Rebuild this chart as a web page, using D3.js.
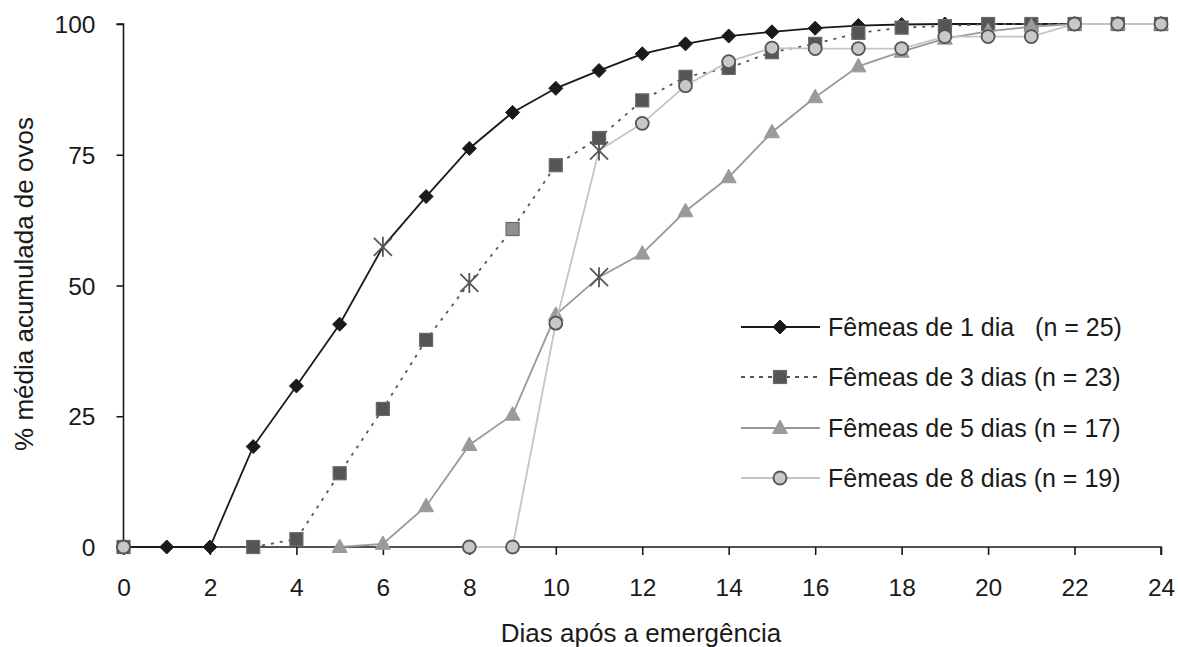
<!DOCTYPE html>
<html>
<head>
<meta charset="utf-8">
<script src="https://cdn.jsdelivr.net/npm/d3@7"></script>
<style>
  body { margin: 0; background: #fff; }
  svg { display: block; font-family: "Liberation Sans", Arial, sans-serif; }
  .axis-title { font-size: 26px; fill: #1a1a1a; }
  .legend-label { font-size: 25px; fill: #1a1a1a; white-space: pre; }
</style>
</head>
<body>
<div id="chart"></div>
<script>
const WIDTH = 1178;
const HEIGHT = 647;

const days = d3.range(0, 25);
const xTicks = [0, 2, 4, 6, 8, 10, 12, 14, 16, 18, 20, 22, 24];
const yTicks = [0, 25, 50, 75, 100];

const seriesNames = [
  "Fêmeas de 1 dia   (n = 25)",
  "Fêmeas de 3 dias (n = 23)",
  "Fêmeas de 5 dias (n = 17)",
  "Fêmeas de 8 dias (n = 19)"
];

// cumulative % per day (null = no point that day)
const females1 = [0, 0, 0, 19.2, 30.8, 42.6, 57.4, 67.0, 76.2, 83.1, 87.7, 91.1, 94.3, 96.2, 97.7, 98.5, 99.2, 99.7, 99.9, 100, 100, 100, 100, 100, 100];
const females3 = [0, null, null, 0, 1.5, 14.1, 26.4, 39.6, 50.5, 60.8, 73.0, 78.2, 85.4, 89.9, 91.6, 94.6, 96.2, 98.3, 99.3, 99.6, 100, 100, 100, 100, 100];
const females5 = [null, null, null, null, null, 0, 0.6, 7.8, 19.5, 25.3, 44.4, 51.6, 56.1, 64.2, 70.7, 79.3, 86.0, 91.9, 94.7, 97.2, 98.6, 99.5, 100, 100, 100];
const females8 = [0, null, null, null, null, null, null, null, 0, 0, 42.8, 75.8, 81.0, 88.2, 92.8, 95.4, 95.3, 95.3, 95.3, 97.6, 97.6, 97.6, 100, 100, 100];

// days drawn with an asterisk instead of the usual marker
const asteriskDays = [[6], [8], [11], [11]];
// days drawn with a lighter fill
const lightDays = [[], [9], [], []];

const seriesValues = [females1, females3, females5, females8];

const styles = [
  { stroke: "#1a1a1a", width: 1.8, dash: null, legendDash: null, marker: "diamond", fill: "#1a1a1a", mstroke: "#1a1a1a" },
  { stroke: "#555", width: 1.8, dash: "3,6", legendDash: "4,5", marker: "square", fill: "#555", mstroke: "#6a6a6a" },
  { stroke: "#999", width: 1.8, dash: null, legendDash: null, marker: "triangle", fill: "#9a9a9a", mstroke: "#9a9a9a" },
  { stroke: "#c4c4c4", width: 1.8, dash: null, legendDash: null, marker: "circle", fill: "#c8c8c8", mstroke: "#555" }
];

const chartLeft = 123.5;
const chartRight = 1161;
const chartTop = 24;
const chartBottom = 547;

const x = d3.scaleLinear().domain([0, 24]).range([chartLeft, chartRight]);
const y = d3.scaleLinear().domain([0, 100]).range([chartBottom, chartTop]);

const svg = d3.select("#chart").append("svg")
  .attr("width", WIDTH)
  .attr("height", HEIGHT)
  .attr("viewBox", `0 0 ${WIDTH} ${HEIGHT}`);

// axes
const yAxis = svg.append("g")
  .attr("transform", `translate(${chartLeft},0)`)
  .call(d3.axisLeft(y).tickValues(yTicks).tickSize(7).tickPadding(21));
const xAxis = svg.append("g")
  .attr("transform", `translate(0,${chartBottom})`)
  .call(d3.axisBottom(x).tickValues(xTicks).tickSize(8).tickPadding(24));

[xAxis, yAxis].forEach((axis) => {
  axis.attr("font-size", null).attr("font-family", null);
  axis.select(".domain").attr("stroke", "#1a1a1a").attr("stroke-width", 1.6);
  axis.selectAll(".tick line").attr("stroke", "#1a1a1a").attr("stroke-width", 1.6);
  axis.selectAll(".tick text")
    .style("font-size", "24.5px")
    .style("font-family", "'Liberation Sans', Arial, sans-serif")
    .attr("fill", "#1a1a1a");
});
yAxis.selectAll(".tick text").attr("dy", "0.35em");
yAxis.select(".domain").attr("d", `M-7,${chartTop}H0V${chartBottom}`);
xAxis.select(".domain").attr("d", `M${chartLeft},0H${chartRight}V8`);

svg.append("text")
  .attr("class", "axis-title")
  .attr("text-anchor", "middle")
  .attr("transform", `translate(33,284) rotate(-90)`)
  .text("% média acumulada de ovos");

svg.append("text")
  .attr("class", "axis-title")
  .attr("text-anchor", "middle")
  .attr("x", 641)
  .attr("y", 642)
  .text("Dias após a emergência");

function drawMarker(g, type, cx, cy, style, fillOverride) {
  const fill = fillOverride || style.fill;
  if (type === "diamond") {
    g.append("path")
      .attr("d", `M${cx},${cy - 7}L${cx + 7},${cy}L${cx},${cy + 7}L${cx - 7},${cy}Z`)
      .attr("fill", fill).attr("stroke", style.mstroke).attr("stroke-width", 1);
  } else if (type === "square") {
    g.append("rect")
      .attr("x", cx - 6.5).attr("y", cy - 6.5).attr("width", 13).attr("height", 13)
      .attr("fill", fill).attr("stroke", style.mstroke).attr("stroke-width", 1.2);
  } else if (type === "triangle") {
    g.append("path")
      .attr("d", `M${cx},${cy - 8}L${cx + 7.5},${cy + 5.5}L${cx - 7.5},${cy + 5.5}Z`)
      .attr("fill", fill).attr("stroke", style.mstroke).attr("stroke-width", 1);
  } else if (type === "circle") {
    g.append("circle")
      .attr("cx", cx).attr("cy", cy).attr("r", 6.5)
      .attr("fill", fill).attr("stroke", style.mstroke).attr("stroke-width", 1.8);
  } else if (type === "asterisk") {
    const s = 9;
    g.append("path")
      .attr("d", `M${cx - s},${cy - s}L${cx + s},${cy + s}M${cx - s},${cy + s}L${cx + s},${cy - s}M${cx},${cy - s - 1}L${cx},${cy + s + 1}`)
      .attr("stroke", "#555").attr("stroke-width", 1.8).attr("fill", "none");
  }
}

const line = d3.line()
  .defined((d) => d.value !== null)
  .x((d) => x(d.day))
  .y((d) => y(d.value));

seriesValues.forEach((values, i) => {
  const style = styles[i];
  const points = days.map((day, k) => ({ day, value: values[k] }));
  const g = svg.append("g").attr("class", "series");

  g.append("path")
    .datum(points)
    .attr("d", line)
    .attr("fill", "none")
    .attr("stroke", style.stroke)
    .attr("stroke-width", style.width)
    .attr("stroke-dasharray", style.dash);

  points.filter((d) => d.value !== null).forEach((d) => {
    const type = asteriskDays[i].includes(d.day) ? "asterisk" : style.marker;
    const fillOverride = lightDays[i].includes(d.day) ? "#8f8f8f" : null;
    drawMarker(g, type, x(d.day), y(d.value), style, fillOverride);
  });
});

// legend
const legendRows = [327, 377, 428, 478];
const legend = svg.append("g").attr("class", "legend");
seriesNames.forEach((name, i) => {
  const style = styles[i];
  const ly = legendRows[i];
  legend.append("line")
    .attr("x1", 741).attr("x2", 820).attr("y1", ly).attr("y2", ly)
    .attr("stroke", style.stroke).attr("stroke-width", style.width)
    .attr("stroke-dasharray", style.legendDash);
  drawMarker(legend, style.marker, 780, ly, style, null);
  legend.append("text")
    .attr("class", "legend-label")
    .attr("x", 828)
    .attr("y", ly + 9)
    .text(name);
});
</script>
</body>
</html>
